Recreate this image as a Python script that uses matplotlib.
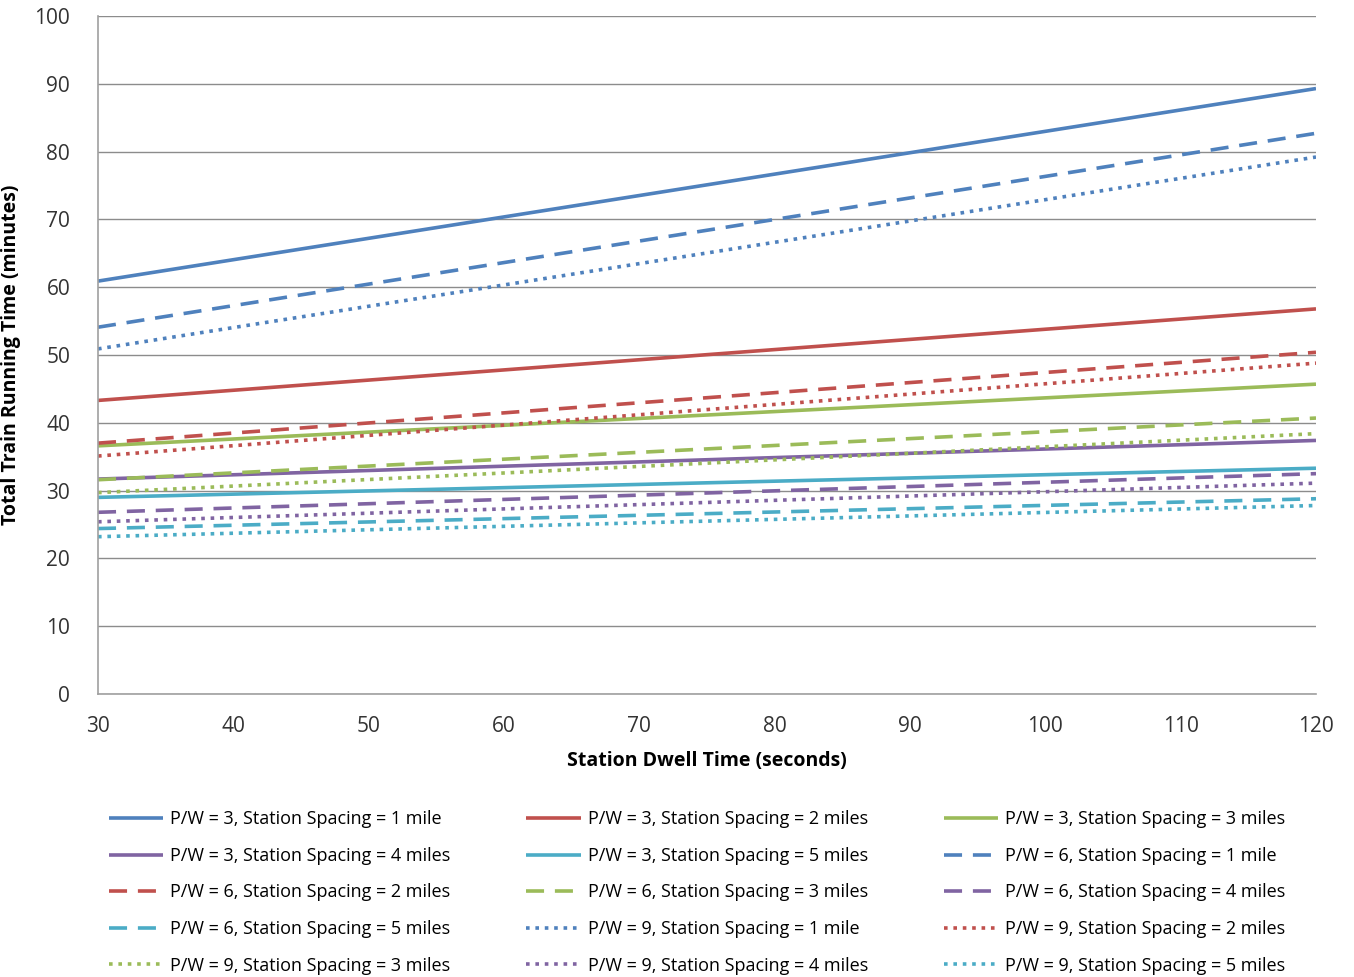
import matplotlib
matplotlib.use("Agg")
import matplotlib.pyplot as plt

plt.rcParams['font.family'] = ['Open Sans', 'DejaVu Sans']

# dwell time (s) at the ends of each line
dwell = [30, 120]

pw3_1mi = [60.9, 89.3]
pw3_2mi = [43.3, 56.8]
pw3_3mi = [36.6, 45.7]
pw3_4mi = [31.7, 37.4]
pw3_5mi = [29.0, 33.3]
pw6_1mi = [54.1, 82.7]
pw6_2mi = [37.0, 50.4]
pw6_3mi = [31.6, 40.7]
pw6_4mi = [26.8, 32.5]
pw6_5mi = [24.4, 28.8]
pw9_1mi = [50.9, 79.2]
pw9_2mi = [35.1, 48.8]
pw9_3mi = [29.7, 38.4]
pw9_4mi = [25.4, 31.1]
pw9_5mi = [23.2, 27.8]

labels = [
    "P/W = 3, Station Spacing = 1 mile", "P/W = 3, Station Spacing = 2 miles",
    "P/W = 3, Station Spacing = 3 miles", "P/W = 3, Station Spacing = 4 miles",
    "P/W = 3, Station Spacing = 5 miles", "P/W = 6, Station Spacing = 1 mile",
    "P/W = 6, Station Spacing = 2 miles", "P/W = 6, Station Spacing = 3 miles",
    "P/W = 6, Station Spacing = 4 miles", "P/W = 6, Station Spacing = 5 miles",
    "P/W = 9, Station Spacing = 1 mile", "P/W = 9, Station Spacing = 2 miles",
    "P/W = 9, Station Spacing = 3 miles", "P/W = 9, Station Spacing = 4 miles",
    "P/W = 9, Station Spacing = 5 miles",
]
series = [pw3_1mi, pw3_2mi, pw3_3mi, pw3_4mi, pw3_5mi,
          pw6_1mi, pw6_2mi, pw6_3mi, pw6_4mi, pw6_5mi,
          pw9_1mi, pw9_2mi, pw9_3mi, pw9_4mi, pw9_5mi]

colors = ['#4F81BD', '#C0504D', '#9BBB59', '#8064A2', '#4BACC6']
styles = ['-', (0, (5, 3)), (0, (1, 1.6))]

fig = plt.figure(figsize=(13.54, 9.77), dpi=100)
ax = fig.add_axes([98/1354, 1 - 694/977, (1316-98)/1354, (694-16)/977])

handles = []
for i, (vals, lab) in enumerate(zip(series, labels)):
    ls = styles[i // 5]
    h, = ax.plot(dwell, vals, color=colors[i % 5], lw=2.6, linestyle=ls,
                 label=lab, solid_capstyle='butt', dash_capstyle='butt')
    handles.append(h)

ax.set_xlim(30, 120)
ax.set_ylim(0, 100)
ax.set_xticks(range(30, 121, 10))
ax.set_yticks(range(0, 101, 10))
ax.grid(axis='y', color='#8c8c8c', lw=1)
ax.set_axisbelow(True)
for s in ['top', 'right']:
    ax.spines[s].set_visible(False)
for s in ['left', 'bottom']:
    ax.spines[s].set_color('#a0a0a0')
    ax.spines[s].set_linewidth(1.2)
ax.tick_params(labelsize=15, colors='#333333', length=0)
ax.tick_params(axis='x', pad=16)
ax.tick_params(axis='y', pad=20)

ax.set_xlabel("Station Dwell Time (seconds)", fontsize=14, fontweight='bold', labelpad=10)
ax.set_ylabel("Total Train Running Time (minutes)", fontsize=14, fontweight='bold', labelpad=10)

# legend is read row-wise in the picture, matplotlib fills columns first
order = [r * 3 + c for c in range(3) for r in range(5)]
fig.legend([handles[k] for k in order], [labels[k] for k in order],
           ncol=3, loc='upper center', bbox_to_anchor=(0.515, 1 - 794/977),
           frameon=False, fontsize=13, handlelength=3, columnspacing=4.2,
           labelspacing=1.03, handletextpad=0.4)

fig.savefig("out.png", dpi=100)
